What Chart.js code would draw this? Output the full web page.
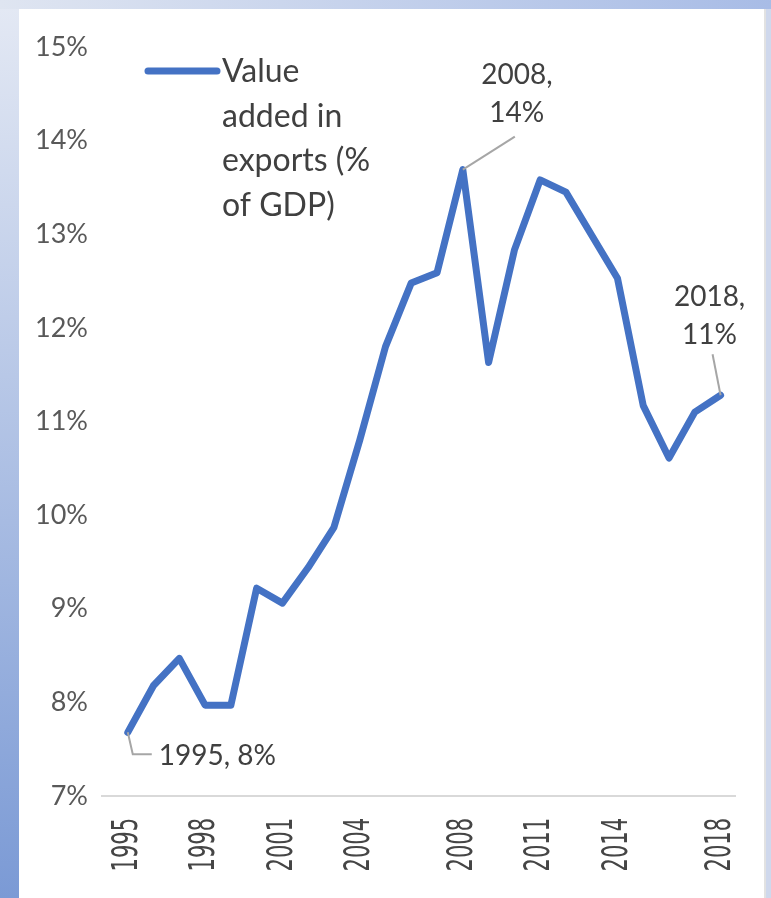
<!DOCTYPE html>
<html>
<head>
<meta charset="utf-8">
<script src="https://cdn.jsdelivr.net/npm/chart.js@4"></script>
<style>
  body { margin: 0; width: 771px; height: 898px; overflow: hidden; position: relative;
         background: linear-gradient(to bottom, #e4e9f4, #7b9ad5); }
  #topband { position: absolute; left: 0; top: 0; width: 771px; height: 9px;
             background: linear-gradient(to right, #dfe5f1, #a8bce6); }
  #rightband { position: absolute; left: 766px; top: 9px; width: 5px; height: 889px; background: #cfd8ec; }
  #panel { position: absolute; left: 19px; top: 9px; width: 745px; height: 889px;
           background: #fff; border-right: 2px solid #e2e2e2; }
  #myChart { position: absolute; left: 0; top: 0; }
</style>
</head>
<body>
<div id="topband"></div>
<div id="rightband"></div>
<div id="panel"></div>
<canvas id="myChart" width="771" height="898"></canvas>
<script>
const years = [1995, 1996, 1997, 1998, 1999, 2000, 2001, 2002, 2003, 2004, 2005, 2006,
    2007, 2008, 2009, 2010, 2011, 2012, 2013, 2014, 2015, 2016, 2017, 2018];
const valueAdded = [7.68, 8.18, 8.47, 7.97, 7.97, 9.22, 9.06, 9.44, 9.87, 10.8, 11.8, 12.48,
    12.59, 13.69, 11.63, 12.83, 13.58, 13.45, 12.99, 12.53, 11.17, 10.61, 11.1, 11.28];
const tickYears = [1995, 1998, 2001, 2004, 2008, 2011, 2014, 2018];
const labelledYears = [1995, 2008, 2018];
const seriesLabel = 'Value added in exports (% of GDP)';

const lineColor = '#4472c4';
const font = 'Lato, "Open Sans", sans-serif';

// where each callout sits relative to its point: leader path, text anchor, alignment
const callouts = {
    1995: { path: [[0, 0], [5, 22], [24, 22]], tx: 31, ty: 24, align: 'left' },
    2008: { path: [[0, 0], [52, -33]], tx: 54, ty: -95, align: 'center' },
    2018: { path: [[0, 0], [-8, -41]], tx: -11, ty: -98, align: 'center' },
};

const calloutPlugin = {
    id: 'callouts',
    afterDatasetsDraw(chart) {
        const ctx = chart.ctx;
        const meta = chart.getDatasetMeta(0);
        ctx.save();
        labelledYears.forEach((yr) => {
            const i = years.indexOf(yr);
            const pt = meta.data[i];
            const c = callouts[yr];
            ctx.strokeStyle = '#a6a6a6';
            ctx.lineWidth = 2;
            ctx.beginPath();
            c.path.forEach(([dx, dy], k) => {
                if (k === 0) ctx.moveTo(pt.x + dx, pt.y + dy);
                else ctx.lineTo(pt.x + dx, pt.y + dy);
            });
            ctx.stroke();

            const text = yr + ', ' + Math.round(valueAdded[i]) + '%';
            ctx.fillStyle = '#404040';
            ctx.font = '28px ' + font;
            ctx.textAlign = c.align;
            ctx.textBaseline = 'middle';
            if (c.align === 'center') {
                const parts = text.split(' ');
                ctx.fillText(parts[0], pt.x + c.tx, pt.y + c.ty);
                ctx.fillText(parts[1], pt.x + c.tx, pt.y + c.ty + 38);
            } else {
                ctx.fillText(text, pt.x + c.tx, pt.y + c.ty);
            }
        });
        ctx.restore();
    },
};

// year labels, rotated and drawn a little wide
const yearLabelPlugin = {
    id: 'yearLabels',
    afterDraw(chart) {
        const ctx = chart.ctx;
        const xs = chart.scales.x;
        ctx.save();
        ctx.font = '21px "DejaVu Sans", sans-serif';
        ctx.fillStyle = '#454545';
        ctx.textAlign = 'right';
        ctx.textBaseline = 'middle';
        xs.ticks.forEach((t) => {
            const px = xs.getPixelForValue(t.value);
            ctx.save();
            ctx.translate(px, xs.top + 22);
            ctx.rotate(-Math.PI / 2);
            ctx.scale(1, 1.7);
            ctx.fillText(String(t.value), 0, 0);
            ctx.restore();
        });
        ctx.restore();
    },
};

// legend with the label wrapped next to a short line sample
const legendPlugin = {
    id: 'wrappedLegend',
    afterDraw(chart) {
        const ctx = chart.ctx;
        const ds = chart.data.datasets[0];
        ctx.save();
        ctx.strokeStyle = ds.borderColor;
        ctx.lineWidth = 7;
        ctx.lineCap = 'round';
        ctx.beginPath();
        ctx.moveTo(148, 71);
        ctx.lineTo(217, 71);
        ctx.stroke();

        ctx.font = '32px ' + font;
        ctx.fillStyle = '#404040';
        ctx.textAlign = 'left';
        ctx.textBaseline = 'alphabetic';
        const words = ds.label.split(' ');
        const lines = [];
        let cur = '';
        words.forEach((w) => {
            const test = cur ? cur + ' ' + w : w;
            if (cur && ctx.measureText(test).width > 165) {
                lines.push(cur);
                cur = w;
            } else {
                cur = test;
            }
        });
        lines.push(cur);
        lines.forEach((ln, k) => ctx.fillText(ln, 222, 82 + k * 44.5));
        ctx.restore();
    },
};

new Chart(document.getElementById('myChart'), {
    type: 'line',
    data: {
        datasets: [
            {
                label: seriesLabel,
                data: years.map((yr, i) => ({ x: yr, y: valueAdded[i] })),
                borderColor: lineColor,
                borderWidth: 7,
                borderJoinStyle: 'round',
                borderCapStyle: 'round',
                pointRadius: 0,
                tension: 0,
                fill: false,
            },
        ],
    },
    options: {
        responsive: false,
        animation: false,
        devicePixelRatio: 1,
        layout: { padding: { top: 47, right: 36, left: 0, bottom: 0 } },
        plugins: {
            legend: { display: false },
            tooltip: { enabled: false },
        },
        scales: {
            x: {
                type: 'linear',
                min: 1994,
                max: 2018.56,
                afterBuildTicks: (scale) => {
                    scale.ticks = tickYears.map((v) => ({ value: v }));
                },
                afterFit: (scale) => { scale.height = 102; },
                grid: { display: false, drawTicks: false },
                border: { display: true, color: '#d9d9d9', width: 2 },
                ticks: { display: false },
            },
            y: {
                min: 7,
                max: 15,
                afterFit: (scale) => { scale.width = 102; },
                grid: { display: false, drawTicks: false },
                border: { display: false },
                ticks: {
                    stepSize: 1,
                    padding: 14,
                    color: '#595959',
                    font: { family: font, size: 27 },
                    callback: (v) => v + '%',
                },
            },
        },
    },
    plugins: [calloutPlugin, yearLabelPlugin, legendPlugin],
});
</script>
</body>
</html>
